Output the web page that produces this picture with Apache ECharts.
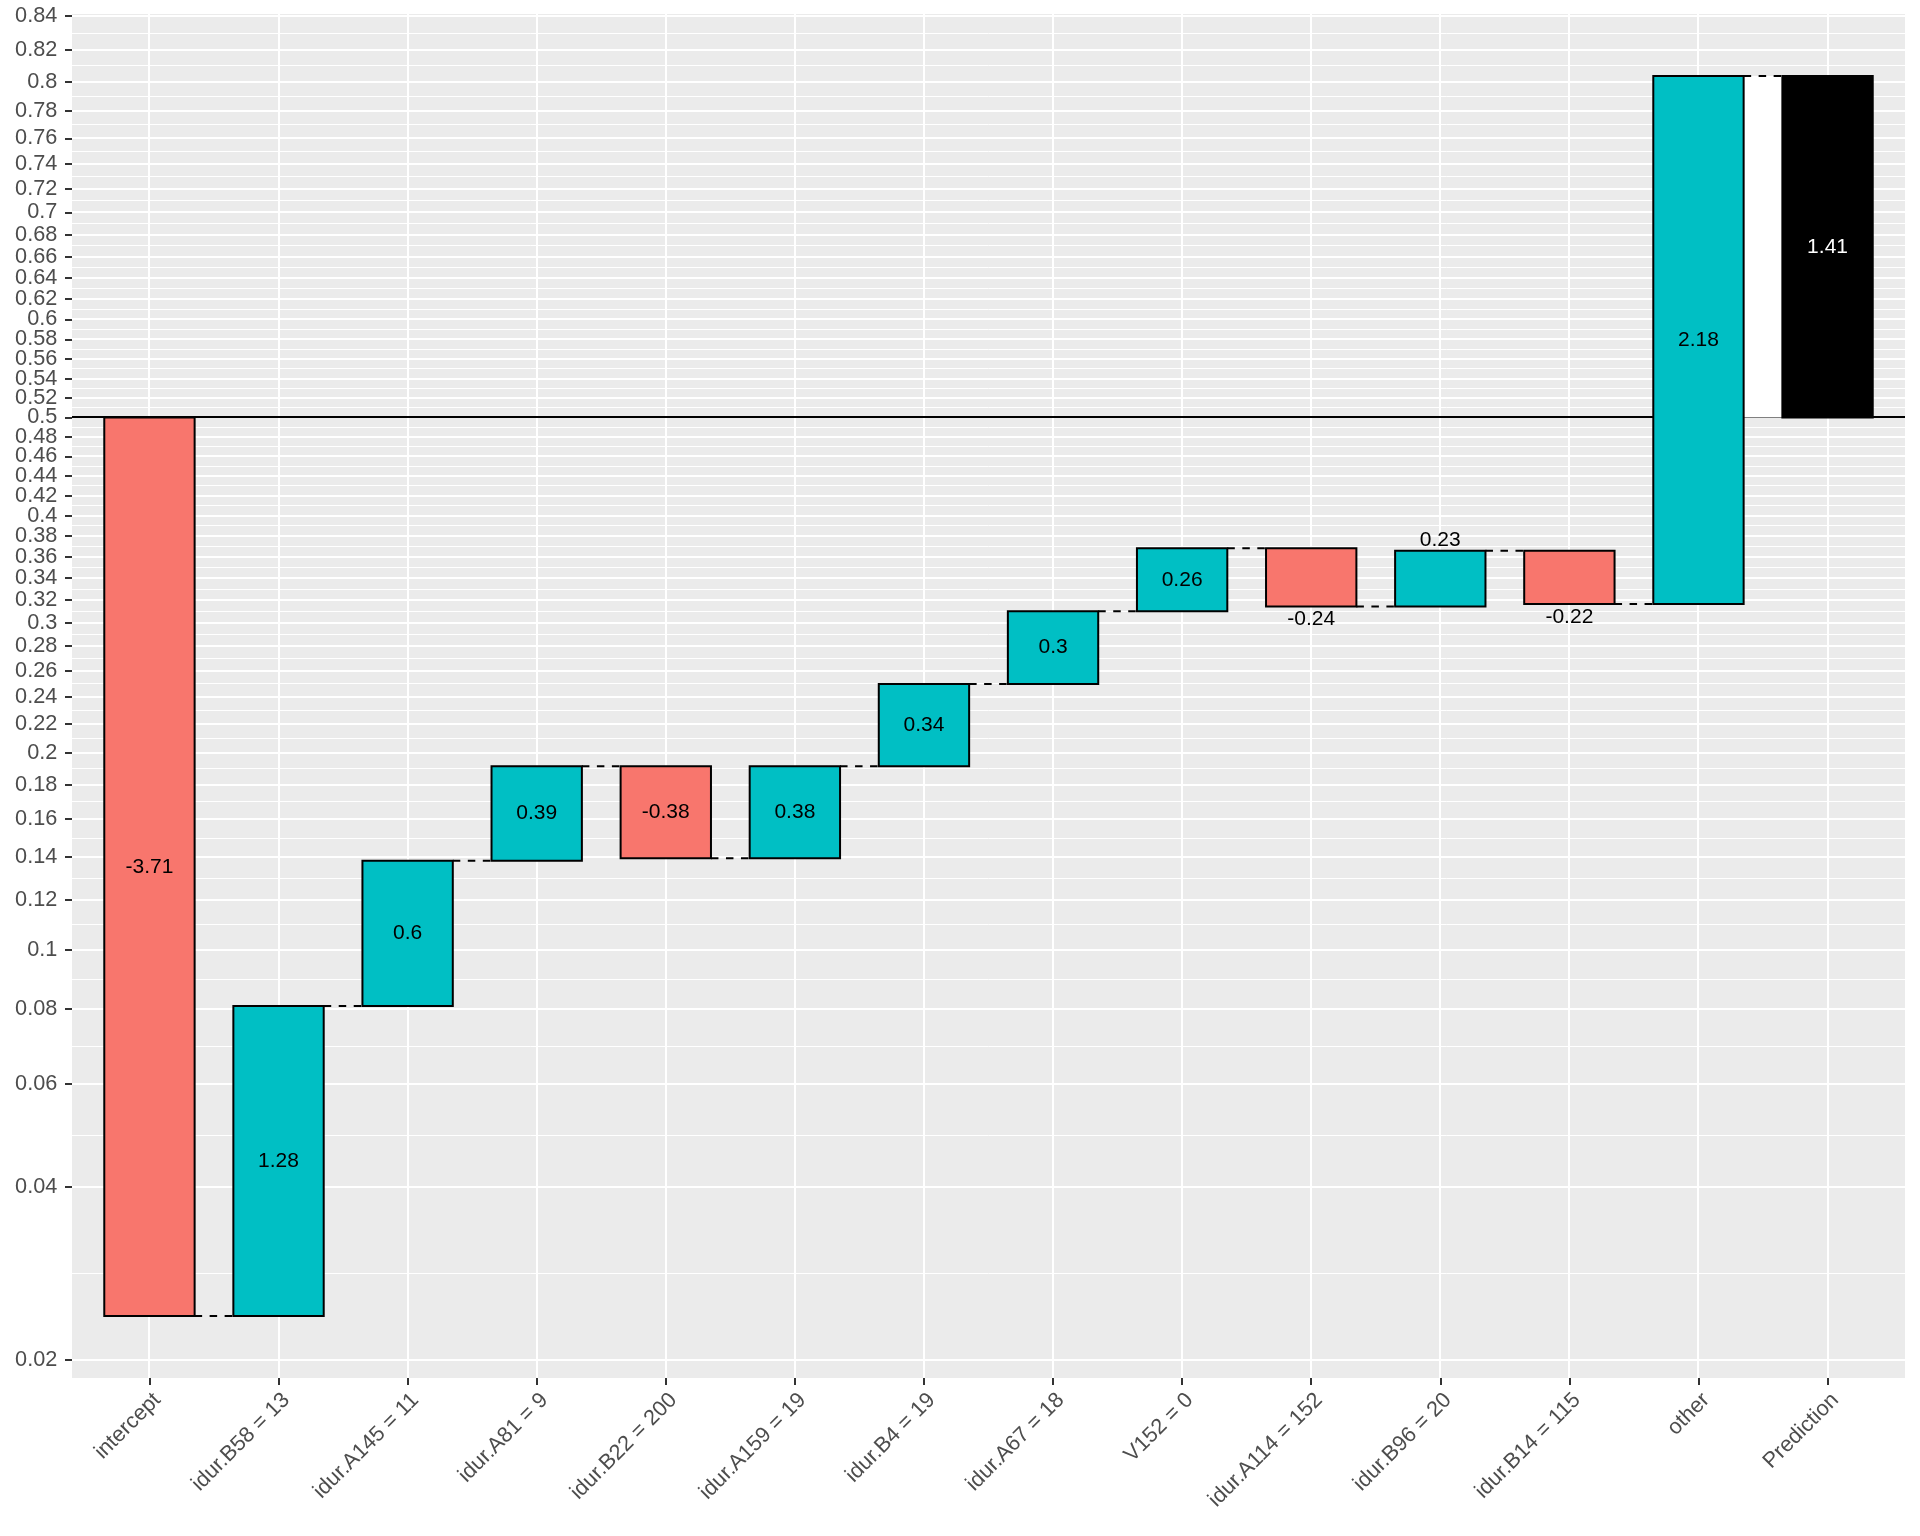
<!DOCTYPE html>
<html>
<head>
<meta charset="utf-8">
<script src="https://cdn.jsdelivr.net/npm/echarts@6/dist/echarts.min.js"></script>
<style>
  html, body { margin: 0; padding: 0; background: #fff; }
  #chart { width: 1920px; height: 1536px; }
</style>
</head>
<body>
<div id="chart"></div>
<script>
// --- data (log-odds contributions) ---
const categories = ['intercept', 'idur.B58 = 13', 'idur.A145 = 11', 'idur.A81 = 9', 'idur.B22 = 200',
  'idur.A159 = 19', 'idur.B4 = 19', 'idur.A67 = 18', 'V152 = 0', 'idur.A114 = 152',
  'idur.B96 = 20', 'idur.B14 = 115', 'other', 'Prediction'];
const contributions = [-3.71, 1.28, 0.6, 0.39, -0.38, 0.38, 0.34, 0.3, 0.26, -0.24, 0.23, -0.22, 2.18];
const prediction = 1.41;
const yTickProbs = [0.02, 0.04, 0.06, 0.08, 0.1, 0.12, 0.14, 0.16, 0.18, 0.2, 0.22, 0.24, 0.26, 0.28,
  0.3, 0.32, 0.34, 0.36, 0.38, 0.4, 0.42, 0.44, 0.46, 0.48, 0.5, 0.52, 0.54, 0.56, 0.58, 0.6,
  0.62, 0.64, 0.66, 0.68, 0.7, 0.72, 0.74, 0.76, 0.78, 0.8, 0.82, 0.84];
const baseProb = 0.5;

// --- helpers ---
const logit = p => Math.log(p / (1 - p));
const invLogit = v => 1 / (1 + Math.exp(-v));

const RED = '#F8766D', TEAL = '#00BFC4';
const FONT = '"Liberation Sans", Arial, sans-serif';
const HALF = 0.35; // half bar width in category units

// waterfall rows: [x, start, end, value]
const base = logit(baseProb);
const rows = [];
let cum = base;
contributions.forEach((v, i) => {
  rows.push([i, cum, cum + v, v]);
  cum += v;
});
rows.push([contributions.length, base, base + prediction, prediction]);

const allY = rows.flatMap(r => [r[1], r[2]]);
const lo = Math.min(...allY), hi = Math.max(...allY);
const yMin = lo - 0.05 * (hi - lo);
const yMax = hi + 0.05 * (hi - lo);
const xMin = -0.6, xMax = categories.length - 1 + 0.6;

const yMajor = yTickProbs.map(logit);
const yMinor = [];
for (let i = 0; i < yMajor.length - 1; i++) yMinor.push((yMajor[i] + yMajor[i + 1]) / 2);
const xTicks = categories.map((_, i) => i);

// gridline rows: [kind, value]  kind 0 = minor h, 1 = major h, 2 = vertical, 3 = baseline
const gridRows = []
  .concat(yMinor.map(v => [0, v]))
  .concat(yMajor.map(v => [1, v]))
  .concat(xTicks.map(i => [2, i]))
  .concat([[3, base]]);

const chart = echarts.init(document.getElementById('chart'));

const option = {
  animation: false,
  backgroundColor: '#ffffff',
  grid: { left: 72, top: 14, right: 15, bottom: 158, show: true, backgroundColor: '#EBEBEB', borderWidth: 0 },
  xAxis: {
    type: 'value', min: xMin, max: xMax, position: 'bottom',
    axisLine: { show: false, onZero: false },
    splitLine: { show: false },
    axisTick: { show: true, customValues: xTicks, length: 7, lineStyle: { color: '#333333', width: 2 } },
    axisLabel: {
      customValues: xTicks, rotate: 45, align: 'right', verticalAlign: 'top', margin: 11,
      formatter: v => categories[Math.round(v)],
      color: '#4D4D4D', fontSize: 21.7, fontFamily: FONT
    }
  },
  yAxis: {
    type: 'value', min: yMin, max: yMax, position: 'left',
    axisLine: { show: false, onZero: false },
    splitLine: { show: false },
    axisTick: { show: true, customValues: yMajor, length: 7, lineStyle: { color: '#333333', width: 2 } },
    axisLabel: {
      customValues: yMajor, margin: 14.7,
      formatter: v => String(Math.round(invLogit(v) * 100) / 100),
      color: '#4D4D4D', fontSize: 21.7, fontFamily: FONT
    }
  },
  series: [
    { // panel grid lines and the 0.5 baseline
      type: 'custom', silent: true, z: 1,
      data: gridRows,
      renderItem: function (params, api) {
        const cs = params.coordSys;
        const kind = api.value(0), v = api.value(1);
        if (kind === 2) {
          const x = Math.round(api.coord([v, 0])[0]);
          return { type: 'rect', z2: 2,
            shape: { x: x - 1, y: cs.y, width: 2, height: cs.height },
            style: { fill: '#ffffff' } };
        }
        const yRaw = api.coord([0, v])[1];
        const w = kind === 0 ? 1 : 2;
        const y = kind === 0 ? Math.floor(yRaw) + 0.5 : Math.round(yRaw);
        return { type: 'line', z2: kind === 3 ? 3 : kind,
          shape: { x1: cs.x, y1: y, x2: cs.x + cs.width, y2: y },
          style: { stroke: kind === 3 ? '#000000' : '#ffffff', lineWidth: w } };
      }
    },
    { // connectors
      type: 'custom', silent: true, z: 3,
      data: rows.slice(0, -1).map(r => [r[0], r[2]]),
      renderItem: function (params, api) {
        const i = api.value(0), y = api.value(1);
        const p1 = api.coord([i + HALF, y]);
        const p2 = api.coord([i + 1 - HALF, y]);
        const children = [];
        if (params.dataIndex === rows.length - 2) {
          // white gap before the prediction bar
          const a = api.coord([i + HALF, base]);
          const b = api.coord([i + 1 - HALF, y]);
          children.push({ type: 'rect', shape: { x: a[0], y: b[1], width: b[0] - a[0], height: a[1] - b[1] },
            style: { fill: '#ffffff' } });
        }
        children.push({ type: 'line', shape: { x1: p1[0], y1: p1[1], x2: p2[0], y2: p2[1] },
          style: { stroke: '#000000', lineWidth: 2, lineDash: [7.5, 7.5] } });
        return { type: 'group', children: children };
      }
    },
    { // bars + labels
      type: 'custom', silent: true, z: 4,
      data: rows,
      renderItem: function (params, api) {
        const i = api.value(0), s = api.value(1), e = api.value(2), v = api.value(3);
        const isPred = params.dataIndex === rows.length - 1;
        const a = api.coord([i - HALF, Math.max(s, e)]);
        const b = api.coord([i + HALF, Math.min(s, e)]);
        const fill = isPred ? '#000000' : (v < 0 ? RED : TEAL);
        let ly = api.coord([i, (s + e) / 2])[1];
        if (Math.abs(v) < 0.25) ly = v > 0 ? a[1] - 10 : b[1] + 13;
        const cx = api.coord([i, 0])[0];
        return { type: 'group', children: [
          { type: 'rect', shape: { x: a[0], y: a[1], width: b[0] - a[0], height: b[1] - a[1] },
            style: { fill: fill, stroke: '#000000', lineWidth: 2 } },
          { type: 'text', x: cx, y: ly,
            style: { text: String(v), fill: isPred ? '#ffffff' : '#000000', fontSize: 21, fontFamily: FONT,
              align: 'center', verticalAlign: 'middle' } }
        ] };
      }
    }
  ]
};

chart.setOption(option);
window.addEventListener('resize', function () { chart.resize(); });
</script>
</body>
</html>
